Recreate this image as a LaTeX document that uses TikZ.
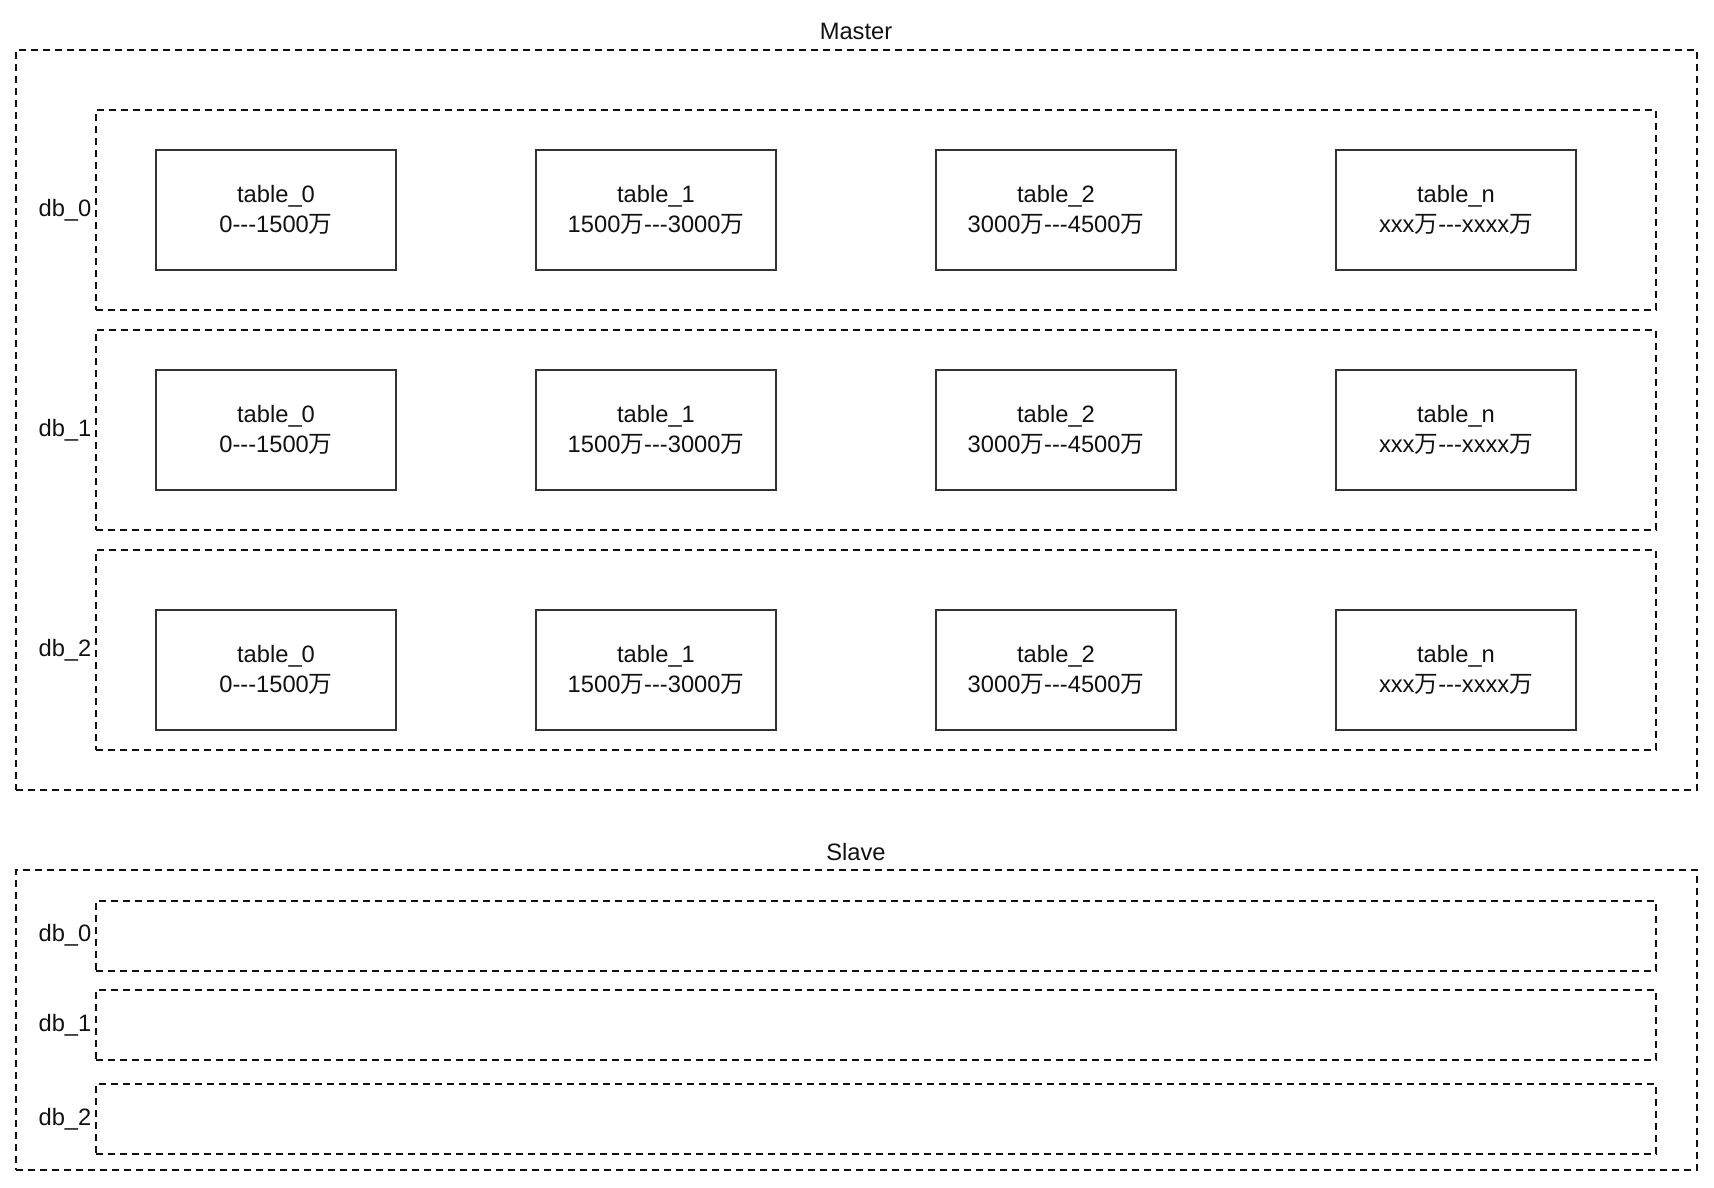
\documentclass[tikz,border=0pt]{standalone}
\usepackage{fontspec}
\setmainfont{Liberation Sans}
\newfontfamily\cjk{Noto Sans CJK SC}
\usetikzlibrary{positioning}
\definecolor{ink}{HTML}{111111}
\definecolor{edge}{HTML}{333333}
\newcommand{\wan}{{\cjk 万}}
\newcommand{\txt}{\fontsize{23.7}{30}\selectfont}
\tikzset{group/.style={draw=ink,line width=2pt,dash pattern=on 7pt off 5pt,inner sep=0pt},
  dbbox/.style={group,minimum width=1560pt},
  tbl/.style={draw=edge,line width=2.2pt,minimum width=240pt,minimum height=120pt,
    inner sep=0pt,align=center,font=\txt,text=ink},
  lbl/.style={font=\txt,text=ink,inner sep=0pt}}
\newcommand{\dbrow}[3]{%
\node[dbbox,minimum height=200pt] (m#1) at (876,#2) {};
\node[lbl] (ml#1) at (65,#2) {db\_#1};
\node[tbl] (m#1t0) at (276,#3) {table\_0\\0-{}-{}-1500\wan};
\node[tbl] (m#1t1) at (656,#3) {table\_1\\1500\wan-{}-{}-3000\wan};
\node[tbl] (m#1t2) at (1056,#3) {table\_2\\3000\wan-{}-{}-4500\wan};
\node[tbl] (m#1tn) at (1456,#3) {table\_n\\xxx\wan-{}-{}-xxxx\wan};}

\begin{document}
\begin{tikzpicture}[x=1pt,y=-1pt]
\useasboundingbox (0,0) rectangle (1714,1187);
% master
\node[group,minimum width=1681pt,minimum height=740pt] (master) at (856.5,420) {};
\node[lbl] (mastertitle) at (856,31) {Master};
\dbrow{0}{210}{210}
\dbrow{1}{430}{430}
\dbrow{2}{650}{670}
% slave
\node[group,minimum width=1681pt,minimum height=300pt] (slave) at (856.5,1020) {};
\node[lbl] (slavetitle) at (856,852) {Slave};
\foreach \i/\y in {0/935.5,1/1025,2/1119}{
  \node[dbbox,minimum height=70pt] (s\i) at (876,\y) {};
  \node[lbl] (sl\i) at (65,\y) {db\_\i};}
\end{tikzpicture}
\end{document}
